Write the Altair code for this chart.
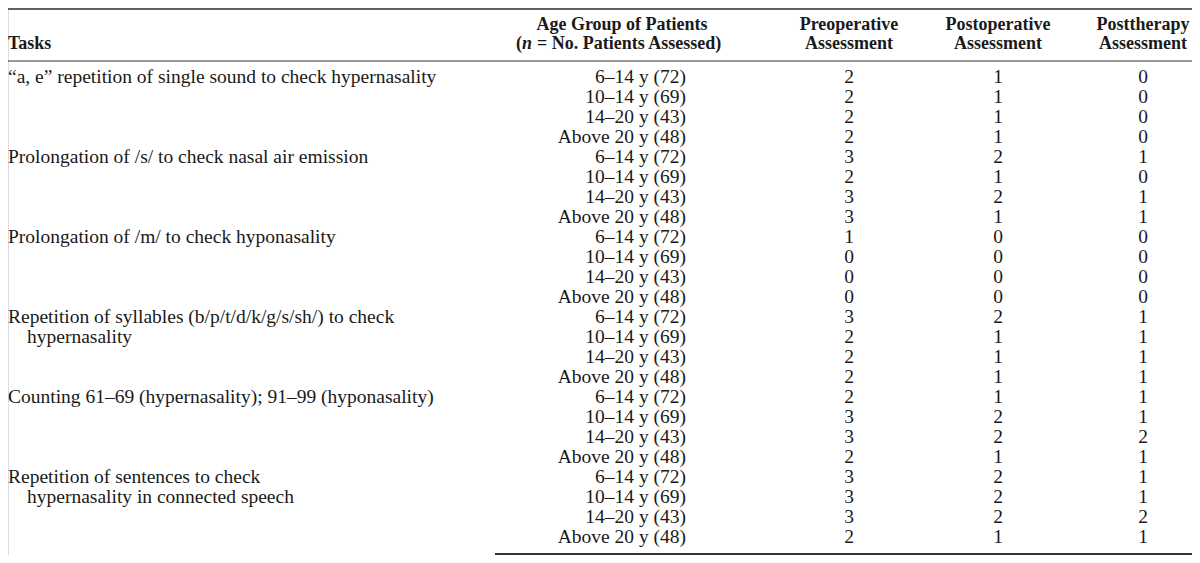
import altair as alt
import pandas as pd

# ---- data ----
task_lines = [
    "\u201ca, e\u201d repetition of single sound to check hypernasality",
    "Prolongation of /s/ to check nasal air emission",
    "Prolongation of /m/ to check hyponasality",
    "Repetition of syllables (b/p/t/d/k/g/s/sh/) to check",
    "hypernasality",
    "Counting 61\u201369 (hypernasality); 91\u201399 (hyponasality)",
    "Repetition of sentences to check",
    "hypernasality in connected speech",
]
task_rows = [0, 4, 8, 12, 13, 16, 20, 21]
task_indent = [0, 0, 0, 0, 1, 0, 0, 1]

age_groups = ["6\u201314 y (72)", "10\u201314 y (69)", "14\u201320 y (43)", "Above 20 y (48)"] * 6
preop = [2, 2, 2, 2, 3, 2, 3, 3, 1, 0, 0, 0, 3, 2, 2, 2, 2, 3, 3, 2, 3, 3, 3, 2]
postop = [1, 1, 1, 1, 2, 1, 2, 1, 0, 0, 0, 0, 2, 1, 1, 1, 1, 2, 2, 1, 2, 2, 2, 1]
posttherapy = [0, 0, 0, 0, 1, 0, 1, 1, 0, 0, 0, 0, 1, 1, 1, 1, 1, 1, 2, 1, 1, 1, 2, 1]

headers = [
    ["Tasks"],
    ["Age Group of Patients"],
    ["Preoperative", "Assessment"],
    ["Postoperative", "Assessment"],
    ["Posttherapy", "Assessment"],
]
age_sub_open = "("
age_sub_italic = "n"
age_sub_rest = "= No. Patients Assessed)"

# ---- layout ----
W, H = 1184, 547
FONT = "Liberation Serif"
BODY_SIZE = 19.5
HEAD_SIZE = 18
INK = "#1a1a1a"
yscale = alt.Scale(domain=[-3.43, 23.92], reverse=True)

rows = list(range(len(age_groups)))
body = pd.DataFrame({
    "row": rows,
    "age": age_groups,
    "pre": [str(v) for v in preop],
    "post": [str(v) for v in postop],
    "ther": [str(v) for v in posttherapy],
})
tasks = pd.DataFrame({"row": task_rows, "text": task_lines, "indent": task_indent})


def txt(data, field, x, align, size=BODY_SIZE, weight="normal", style="normal"):
    return alt.Chart(data).mark_text(
        align=align, baseline="middle", font=FONT, fontSize=size,
        fontWeight=weight, fontStyle=style, color=INK
    ).encode(
        x=alt.value(x),
        y=alt.Y("row:Q", scale=yscale, axis=None),
        text=alt.Text(f"{field}:N"),
    )


layers = []
layers.append(txt(tasks[tasks.indent == 0], "text", 0, "left"))
layers.append(txt(tasks[tasks.indent == 1], "text", 19, "left"))
layers.append(txt(body, "age", 678, "right"))
layers.append(txt(body, "pre", 841, "center"))
layers.append(txt(body, "post", 990, "center"))
layers.append(txt(body, "ther", 1135, "center"))

# headers
L1, L2 = -2.6, -1.65
head_x = [(0, "left"), (614, "center"), (841, "center"), (990, "center"), (1135, "center")]
head_single_line = [L2, L1, None, None, None]
for (hx, al), lines, single in zip(head_x, headers, head_single_line):
    ys = [single] if len(lines) == 1 else [L1, L2]
    hd = pd.DataFrame({"row": ys, "text": lines})
    layers.append(txt(hd, "text", hx, al, size=HEAD_SIZE, weight="bold"))

# second header line of age column with italic n
NX = 519
layers.append(txt(pd.DataFrame({"row": [L2], "text": [age_sub_open]}), "text", NX - 5, "right",
                  size=HEAD_SIZE, weight="bold"))
layers.append(txt(pd.DataFrame({"row": [L2], "text": [age_sub_italic]}), "text", NX, "center",
                  size=HEAD_SIZE, weight="bold", style="italic"))
layers.append(txt(pd.DataFrame({"row": [L2], "text": [age_sub_rest]}), "text", NX + 10, "left",
                  size=HEAD_SIZE, weight="bold"))


def rule(yv, x1, x2, w, color="#333333"):
    return alt.Chart(pd.DataFrame({"r": [yv]})).mark_rule(
        strokeWidth=w, color=color
    ).encode(
        y=alt.Y("r:Q", scale=yscale, axis=None),
        x=alt.value(x1), x2=alt.value(x2),
    )

layers.append(rule(-3.38, 0, W, 1.6))
layers.append(rule(-0.78, 0, W, 1.2))
layers.append(rule(23.87, 487, W, 2))

chart = alt.layer(*layers).properties(
    width=W, height=H, padding=0, autosize=alt.AutoSizeParams(type="none")
).configure_view(stroke=None).configure(background="white")

chart.save("out.html", embed_options={"renderer": "svg", "actions": False})
